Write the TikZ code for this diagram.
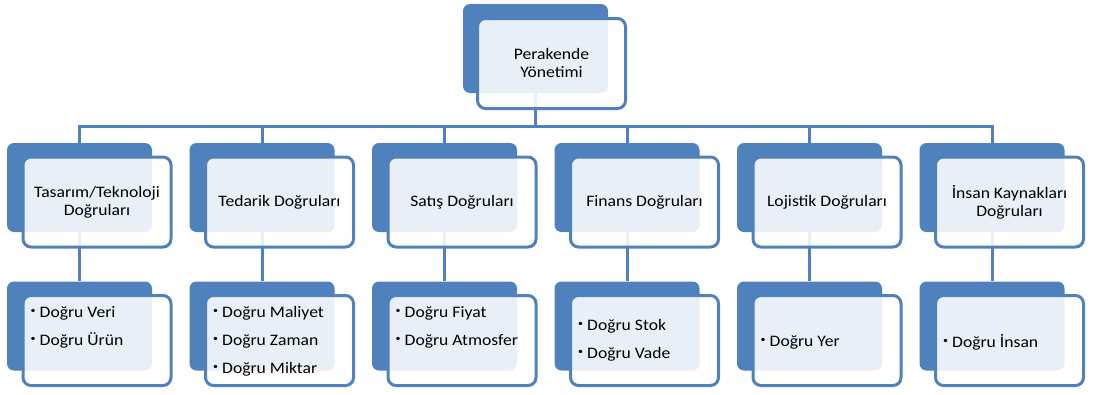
\documentclass[tikz,border=0pt]{standalone}
\usepackage{fontspec}
\setmainfont[FakeStretch=1.1]{Carlito}
\definecolor{accent}{HTML}{4F81BD}
\pgfdeclarelayer{bg}
\pgfsetlayers{bg,main}
\tikzset{
  backbox/.style={rectangle, rounded corners=7pt, fill=accent, draw=none,
    minimum width=145pt, minimum height=89pt, inner sep=0pt},
  frontbox/.style={rectangle, rounded corners=8pt, draw=accent, line width=3pt,
    fill=white, fill opacity=0.88, text opacity=1, draw opacity=1,
    minimum width=148pt, minimum height=90pt, inner sep=2pt, align=center,
    font=\fontsize{16}{18}\selectfont},
  itemlist/.style={anchor=west, align=left, inner sep=0pt,
    font=\fontsize{16}{28}\selectfont},
  link/.style={draw=accent, line width=3pt},
}
\newcommand{\itm}{\makebox[9pt][l]{\raisebox{3.5pt}{\fontsize{9}{9}\selectfont •}}}
\begin{document}
\begin{tikzpicture}[x=1pt, y=-1pt]
\useasboundingbox (0,0) rectangle (1094,394);

% back plates
\node[backbox] (topb) at (535.5,48.5) {};
\node[backbox] (m1b) at (79.5,187.5) {};
\node[backbox] (m2b) at (262,187.5) {};
\node[backbox] (m3b) at (444.5,187.5) {};
\node[backbox] (m4b) at (627,187.5) {};
\node[backbox] (m5b) at (809.5,187.5) {};
\node[backbox] (m6b) at (992,187.5) {};
\node[backbox] (b1b) at (79.5,326) {};
\node[backbox] (b2b) at (262,326) {};
\node[backbox] (b3b) at (444.5,326) {};
\node[backbox] (b4b) at (627,326) {};
\node[backbox] (b5b) at (809.5,326) {};
\node[backbox] (b6b) at (992,326) {};

% connectors behind everything
\coordinate (bus) at (0,126.5);
\begin{pgfonlayer}{bg}
  \foreach \c in {m1b,m2b,m3b,m4b,m5b,m6b}
    \draw[link] (topb.center) -- (topb.center |- bus) -| (\c.north);
  \draw[link] (m1b.center) -- (b1b.north);
  \draw[link] (m2b.center) -- (b2b.north);
  \draw[link] (m3b.center) -- (b3b.north);
  \draw[link] (m4b.center) -- (b4b.north);
  \draw[link] (m5b.center) -- (b5b.north);
  \draw[link] (m6b.center) -- (b6b.north);
\end{pgfonlayer}

% front cards
\node[frontbox] (top) at (551.5,63.5) {Perakende\\Yönetimi};
\node[frontbox] (m1) at (97,202) {Tasarım/Teknoloji\\Doğruları};
\node[frontbox] (m2) at (279.5,202) {Tedarik Doğruları};
\node[frontbox] (m3) at (462,202) {Satış Doğruları};
\node[frontbox] (m4) at (644.5,202) {Finans Doğruları};
\node[frontbox] (m5) at (827,202) {Lojistik Doğruları};
\node[frontbox] (m6) at (1009.5,202) {İnsan Kaynakları\\Doğruları};
\node[frontbox] (b1) at (97,340.5) {};
\node[frontbox] (b2) at (279.5,340.5) {};
\node[frontbox] (b3) at (462,340.5) {};
\node[frontbox] (b4) at (644.5,340.5) {};
\node[frontbox] (b5) at (827,340.5) {};
\node[frontbox] (b6) at (1009.5,340.5) {};

% bullet lists
\node[itemlist] (t1) at ([xshift=9pt]b1.west |- 0,327) {\itm Doğru Veri\\\itm Doğru Ürün};
\node[itemlist] (t2) at ([xshift=9pt]b2.west |- 0,341) {\itm Doğru Maliyet\\\itm Doğru Zaman\\\itm Doğru Miktar};
\node[itemlist] (t3) at ([xshift=9pt]b3.west |- 0,327) {\itm Doğru Fiyat\\\itm Doğru Atmosfer};
\node[itemlist] (t4) at ([xshift=9pt]b4.west |- 0,340) {\itm Doğru Stok\\\itm Doğru Vade};
\node[itemlist] (t5) at ([xshift=9pt]b5.west |- 0,342) {\itm Doğru Yer};
\node[itemlist] (t6) at ([xshift=9pt]b6.west |- 0,342) {\itm Doğru İnsan};
\end{tikzpicture}
\end{document}
